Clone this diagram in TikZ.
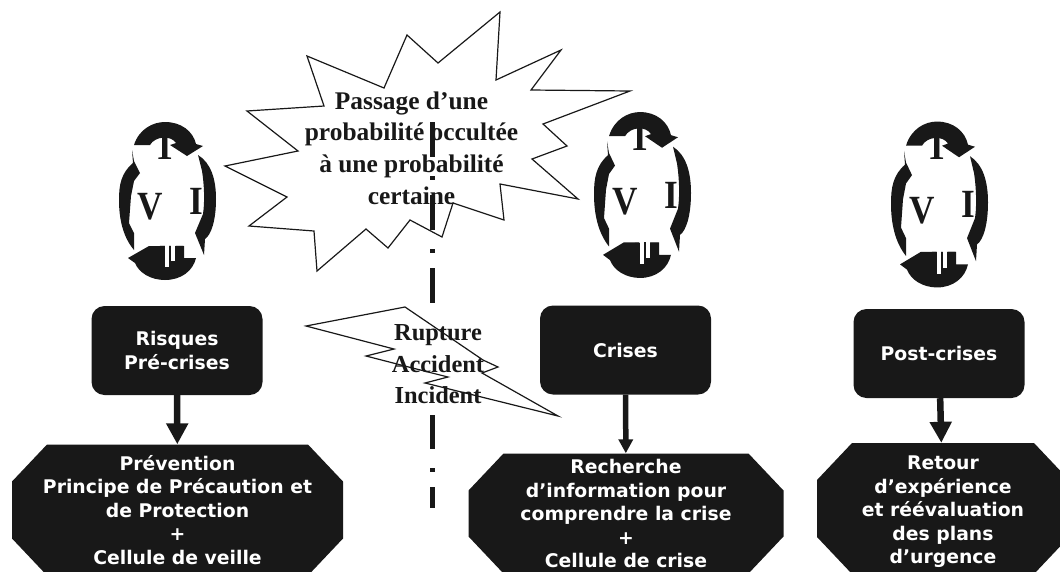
\documentclass[tikz,border=0pt]{standalone}
\usepackage{fontspec}
\setmainfont{Liberation Serif}
\newfontfamily\boxfont{DejaVu Sans}
\usetikzlibrary{positioning,arrows.meta}
\definecolor{inkblack}{HTML}{181818}
\tikzset{
  phase/.style={rectangle,rounded corners=13pt,fill=inkblack,text=white,align=center,
    minimum width=171pt,minimum height=89pt,inner sep=0pt,
    font=\boxfont\bfseries\fontsize{18.8}{23.5}\selectfont},
  action/.style={rectangle,text=white,align=center,inner sep=0pt,
    font=\boxfont\bfseries\fontsize{18.8}{23.5}\selectfont,
    path picture={\fill[inkblack] ([xshift=35pt]path picture bounding box.north west)
      -- ([xshift=-35pt]path picture bounding box.north east)
      -- ([yshift=-37pt]path picture bounding box.north east)
      -- ([yshift=37pt]path picture bounding box.south east)
      -- ([xshift=-35pt]path picture bounding box.south east)
      -- ([xshift=35pt]path picture bounding box.south west)
      -- ([yshift=37pt]path picture bounding box.south west)
      -- ([yshift=-37pt]path picture bounding box.north west) -- cycle;}},
  flow/.style={-{Triangle[length=21pt,width=21pt]},line width=6.5pt,inkblack},
  thinflow/.style={-{Triangle[length=14pt,width=14pt]},line width=5.5pt,inkblack},
  burst/.style={draw=inkblack,line width=1.2pt,line join=miter},
  burstlabel/.style={inner sep=0pt,align=center,text=inkblack,font=\bfseries\fontsize{25.4}{31.7}\selectfont},
  letter/.style={inner sep=0pt,text=inkblack,font=\bfseries\fontsize{40}{40}\selectfont},
  cyclepic/.pic={
    \fill[inkblack] (-33,-56) .. controls (-28,-72) and (-14,-79) .. (-2,-79)
      .. controls (14,-79) and (26,-70) .. (29,-57) -- (36,-55) -- (20,-45) -- (3,-56) -- (9,-58)
      .. controls (4,-66) and (-12,-65) .. (-17,-56) -- cycle;
    \fill[inkblack] (29,57) .. controls (26,70) and (14,79) .. (-2,79)
      .. controls (-16,79) and (-28,72) .. (-32,62) -- (-39,57) -- (-18,45) -- (-3,45) -- (-3,57)
      -- (8,57) -- (8,45) -- (17,45) -- (17,57) -- cycle;
    \fill[inkblack] (31,-46) .. controls (44,-38) and (49,-22) .. (49,-2)
      .. controls (49,20) and (44,34) .. (38,38) -- (37,54) -- (28,32) -- (36,13)
      .. controls (38,0) and (37,-18) .. (35,-30) -- cycle;
    \fill[inkblack] (-35,-51) -- (-33,-40) -- (-27,-28) -- (-33,-20) -- (-36,-5) -- (-38,22) -- (-33,32) -- (-33,49)
      .. controls (-44,36) and (-48,18) .. (-48,-1)
      .. controls (-48,-16) and (-46,-28) .. (-34,-38) -- cycle;
    \node[letter] (-t) at (-2,-55) {\scalebox{.88}[1]{T}};
    \node[letter] (-v) at (-17,6) {\scalebox{.88}[1]{V}};
    \node[letter] (-i) at (29,0) {\scalebox{.88}[1]{I}};
    \node[letter] (-u) at (5,58.5) {\scalebox{.88}[1]{U}};
    \fill[white] (-2,44) rectangle (2,66);
    \fill[white] (4,44) rectangle (8,60);
    \fill[inkblack] (2,45) rectangle (4,60);
  }
}
\begin{document}
\begin{tikzpicture}[x=1pt,y=-1pt]
  \useasboundingbox (0,0) rectangle (1060,571);
  % boites
  \node[phase] (risques) at (177,350.5) {Risques\\Pré-crises};
  \node[phase] (crises) at (625.5,350) {Crises};
  \node[phase] (post) at (939,353.5) {Post-crises};
  \node[action,minimum width=331pt,minimum height=131pt] (prevention) at (177.5,510)
    {Prévention\\Principe de Précaution et\\de Protection\\+\\Cellule de veille};
  \node[action,minimum width=315pt,minimum height=120pt] (recherche) at (626,513.5)
    {Recherche\\d’information pour\\comprendre la crise\\+\\Cellule de crise};
  \node[action,minimum width=252pt,minimum height=131pt] (retour) at (943,508.5)
    {\rule{0pt}{21pt}Retour\\d’expérience\\et réévaluation\\des plans\\d’urgence};
  \draw[flow] (risques) -- (prevention);
  \draw[thinflow] (crises) -- (recherche);
  \draw[flow] (post) -- (retour);
  % cycles
  \pic (c1) at (167,201) {cyclepic};
  \pic[yscale=1.05] (c2) at (642,195) {cyclepic};
  \pic[yscale=1.05] (c3) at (939,204.5) {cyclepic};
  % rupture
  \coordinate (axetop) at (432.5,122);
  \coordinate (axebot) at (432.5,508);
  \draw[inkblack,line width=4.5pt,dash pattern=on 35pt off 19pt on 4pt off 15pt] (axetop) -- (axebot);
  \node[burstlabel,fill=white,minimum height=100pt,font=\bfseries\fontsize{24.4}{31.5}\selectfont] (rupture) at (438,364.5)
    {Rupture\\Accident\\Incident};
  \draw[burst] (306,326) -- (405,307) -- (483,360) -- (498,367) -- (482,373) -- (558,416)
    -- (425,383) -- (448,377) -- (432,373) -- (366,356) -- (394,349) -- cycle;
  \draw[burst] (307,56) -- (384,88) -- (407,35) -- (438,63) -- (500,12) -- (496,80) -- (561,50)
    -- (531,90) -- (630,91) -- (543,124) -- (567,146) -- (532,159) -- (578,199) -- (500,184)
    -- (504,220) -- (453,203) -- (442,237) -- (410,220) -- (388,248) -- (366,229) -- (317,271)
    -- (314,231) -- (249,226) -- (287,197) -- (225,166) -- (298,151) -- (247,111) -- (324,106) -- cycle;
  \node[burstlabel] (passage) at (411.5,148)
    {Passage d’une\\probabilité occultée\\à une probabilité\\certaine};
\end{tikzpicture}
\end{document}
